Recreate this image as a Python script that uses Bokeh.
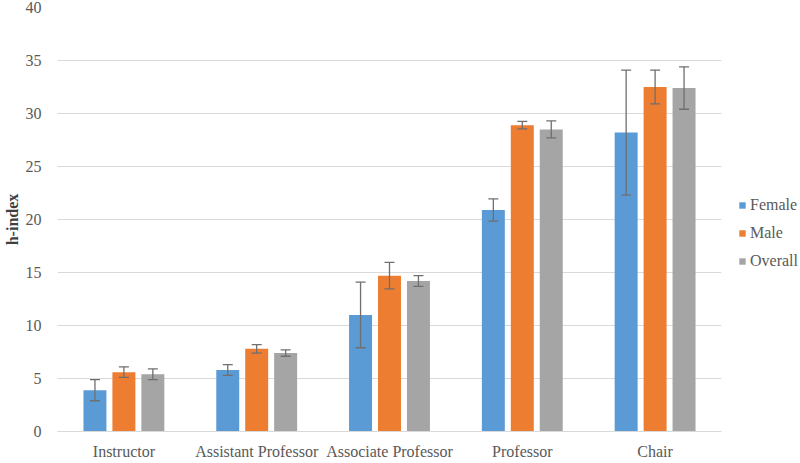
from bokeh.plotting import figure
from bokeh.models import ColumnDataSource, Whisker, TeeHead, Legend, LegendItem, SingleIntervalTicker
from bokeh.transform import dodge
from bokeh.embed import file_html
from bokeh.resources import INLINE

categories = ["Instructor", "Assistant Professor", "Associate Professor", "Professor", "Chair"]
female = [3.9, 5.8, 11.0, 20.9, 28.2]
female_err = [1.0, 0.5, 3.1, 1.05, 5.9]
male = [5.6, 7.8, 14.7, 28.9, 32.5]
male_err = [0.5, 0.4, 1.25, 0.35, 1.6]
overall = [5.4, 7.4, 14.2, 28.5, 32.4]
overall_err = [0.5, 0.3, 0.5, 0.8, 2.0]

series = [
    ("Female", female, female_err, "#5B9BD5", -0.218),
    ("Male", male, male_err, "#ED7D31", 0.0),
    ("Overall", overall, overall_err, "#A5A5A5", 0.218),
]

FONT = "Liberation Serif"
GREY = "#595959"

p = figure(x_range=categories, y_range=(0, 40), frame_width=664, frame_height=424,
           output_backend="svg", toolbar_location=None,
           min_border_top=7, min_border_left=4, min_border_bottom=0, min_border_right=0)
p.outline_line_color = None
p.xgrid.grid_line_color = None
p.ygrid.grid_line_color = "#D9D9D9"
p.yaxis.ticker = SingleIntervalTicker(interval=5)
p.yaxis.axis_line_color = None
p.yaxis.major_tick_line_color = None
p.yaxis.minor_tick_line_color = None
p.yaxis.major_label_text_font = FONT
p.yaxis.major_label_text_font_size = "16px"
p.yaxis.major_label_text_color = GREY
p.yaxis.major_label_standoff = 10
p.yaxis.axis_label = "h-index"
p.yaxis.axis_label_text_font = FONT
p.yaxis.axis_label_text_font_size = "16px"
p.yaxis.axis_label_text_font_style = "bold"
p.yaxis.axis_label_text_color = "#404040"
p.yaxis.axis_label_standoff = 2
p.xaxis.axis_line_color = "#D9D9D9"
p.xaxis.major_tick_line_color = None
p.xaxis.minor_tick_line_color = None
p.xaxis.major_label_text_font = FONT
p.xaxis.major_label_text_font_size = "16px"
p.xaxis.major_label_text_color = GREY
p.xaxis.major_label_standoff = 5

items = []
for name, vals, errs, color, off in series:
    src = ColumnDataSource(dict(
        cat=categories, val=vals,
        upper=[v + e for v, e in zip(vals, errs)],
        lower=[v - e for v, e in zip(vals, errs)],
    ))
    r = p.vbar(x=dodge("cat", off, range=p.x_range), top="val", width=0.173,
               source=src, fill_color=color, line_color=None)
    w = Whisker(source=src, base=dodge("cat", off, range=p.x_range), upper="upper", lower="lower",
                line_color="#6F6F6F", line_width=1.3, level="annotation",
                upper_head=TeeHead(size=10, line_color="#6F6F6F", line_width=1.3),
                lower_head=TeeHead(size=10, line_color="#6F6F6F", line_width=1.3))
    p.add_layout(w)
    items.append(LegendItem(label=name, renderers=[r]))

legend = Legend(items=items, location=(17, 160), border_line_color=None,
                background_fill_alpha=0, label_text_font=FONT, label_text_font_size="16px",
                label_text_color=GREY, glyph_width=8, glyph_height=8, label_height=20,
                spacing=8, padding=4, margin=0, label_standoff=4)
p.add_layout(legend, "right")

open("out.html", "w").write(file_html(p, INLINE))
